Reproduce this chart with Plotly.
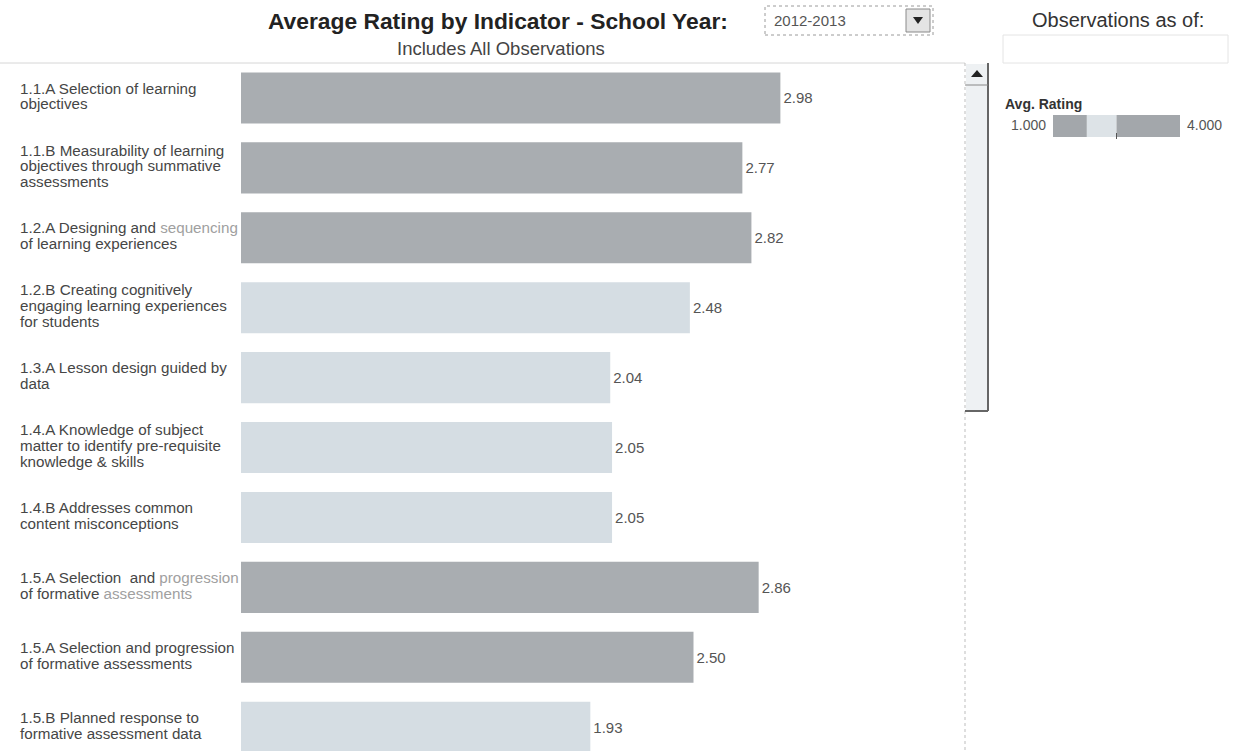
import plotly.graph_objects as go

# Indicator labels (wrapped as shown in the dashboard) and their average ratings
indicators = [
    "1.1.A Selection of learning<br>objectives",
    "1.1.B Measurability of learning<br>objectives through summative<br>assessments",
    "1.2.A Designing and <span style='color:#a0a0a0'>sequencing</span><br>of learning experiences",
    "1.2.B Creating cognitively<br>engaging learning experiences<br>for students",
    "1.3.A Lesson design guided by<br>data",
    "1.4.A Knowledge of subject<br>matter to identify pre-requisite<br>knowledge & skills",
    "1.4.B Addresses common<br>content misconceptions",
    "1.5.A Selection  and <span style='color:#a0a0a0'>progression</span><br>of formative <span style='color:#a0a0a0'>assessments</span>",
    "1.5.A Selection and progression<br>of formative assessments",
    "1.5.B Planned response to<br>formative assessment data",
]
avg_rating = [2.98, 2.77, 2.82, 2.48, 2.04, 2.05, 2.05, 2.86, 2.50, 1.93]

school_year = "2012-2013"

# Stepped colour legend: stops on the rating scale and the colour of each step
legend_stops = [1.0, 1.8, 2.5, 4.0]
legend_colors = ["#a3a7ab", "#dde3e7", "#a3a7ab"]
bar_dark = "#a9adb1"
bar_light = "#d5dde3"

W, H = 1237, 751
L, R, T, B = 241, 965, 63, 751  # plot area in pixels


def px(x):
    return (x - L) / (R - L)


def py(y):
    return (B - y) / (B - T)


def bar_color(v):
    return bar_light if legend_stops[1] <= v < legend_stops[2] else bar_dark


FONT = "Liberation Sans, Arial, sans-serif"
LABEL_SIZE = 15.2
LABEL_LEAD = 15.8  # vertical distance between wrapped label lines (px)

fig = go.Figure()
fig.add_trace(go.Bar(
    x=avg_rating,
    y=list(range(len(avg_rating))),
    orientation="h",
    width=0.73,
    marker=dict(color=[bar_color(v) for v in avg_rating], line=dict(width=0)),
    texttemplate="%{x:.2f}",
    textposition="outside",
    textfont=dict(family=FONT, size=15, color="#555555"),
    cliponaxis=False,
    hoverinfo="skip",
))

annotations = []
for i, lab in enumerate(indicators):
    lines = lab.split("<br>")
    n = len(lines)
    for j, ln in enumerate(lines):
        annotations.append(dict(
            x=px(18), xref="paper", y=i, yref="y",
            yshift=((n - 1) / 2 - j) * LABEL_LEAD + 2,
            text=ln, showarrow=False, xanchor="left", yanchor="middle",
            align="left", font=dict(family=FONT, size=LABEL_SIZE, color="#464646"),
        ))

def text_at(x, y, text, size, color, bold=False, xanchor="center"):
    annotations.append(dict(
        x=px(x), xref="paper", y=py(y), yref="paper",
        text=f"<b>{text}</b>" if bold else text, showarrow=False,
        xanchor=xanchor, yanchor="middle",
        font=dict(family=FONT, size=size, color=color),
    ))

text_at(498, 21, "Average Rating by Indicator - School Year:", 22.8, "#222222", bold=True)
text_at(501, 48, "Includes All Observations", 18.5, "#444444")
text_at(772, 20, school_year, 15, "#555555", xanchor="left")
text_at(1118, 20, "Observations as of:", 20, "#333333")
text_at(1003, 104, "Avg. Rating", 14, "#333333", bold=True, xanchor="left")
text_at(1048, 125, f"{legend_stops[0]:.3f}", 14, "#555555", xanchor="right")
text_at(1185, 125, f"{legend_stops[-1]:.3f}", 14, "#555555", xanchor="left")

shapes = []

def rect(x0, y0, x1, y1, fill, line_color=None, width=1, dash="solid"):
    shapes.append(dict(
        type="rect", xref="paper", yref="paper",
        x0=px(x0), x1=px(x1), y0=py(y1), y1=py(y0),
        fillcolor=fill, layer="above",
        line=dict(color=line_color or fill, width=width if line_color else 0, dash=dash),
    ))

def line(x0, y0, x1, y1, color, width=1, dash="solid"):
    shapes.append(dict(
        type="line", xref="paper", yref="paper",
        x0=px(x0), x1=px(x1), y0=py(y0), y1=py(y1), layer="above",
        line=dict(color=color, width=width, dash=dash),
    ))

def tri(points, color):
    path = "M " + " L ".join(f"{px(a)},{py(b)}" for a, b in points) + " Z"
    shapes.append(dict(type="path", xref="paper", yref="paper", path=path,
                       fillcolor=color, line=dict(width=0), layer="above"))

# pane top edge
line(0, 63, 965, 63, "#d6d6d6", 1)
# scrollbar track, button and thumb
line(965, 63, 965, 751, "#bdbdbd", 1, "dot")
rect(966, 64, 988, 411, "#eef1f3")
line(988, 63, 988, 411, "#666666", 2)
line(965, 411, 988, 411, "#666666", 2)
line(965, 85, 988, 85, "#888888", 1)
tri([(971, 77), (977, 70), (983, 77)], "#222222")

# school-year dropdown
rect(765, 6, 933, 35, "#ffffff", "#9a9a9a", 1, "dot")
rect(906, 9, 930, 32, "#e4e4e4", "#8a8a8a", 1)
tri([(913, 17), (923, 17), (918, 24)], "#222222")

# observations date box
rect(1003, 35, 1228, 63, "#ffffff", "#e4e4e4", 1)

# stepped legend bar
lx0, lx1 = 1053, 1180
span = legend_stops[-1] - legend_stops[0]
for a, b, c in zip(legend_stops[:-1], legend_stops[1:], legend_colors):
    xa = lx0 + (a - legend_stops[0]) / span * (lx1 - lx0)
    xb = lx0 + (b - legend_stops[0]) / span * (lx1 - lx0)
    rect(xa, 115, xb, 137, c)
xm = lx0 + (legend_stops[2] - legend_stops[0]) / span * (lx1 - lx0)
line(xm, 133, xm, 139, "#555555", 1)

fig.update_layout(
    width=W, height=H,
    margin=dict(l=L, r=W - R, t=T, b=H - B, pad=0),
    paper_bgcolor="white", plot_bgcolor="white",
    showlegend=False,
    xaxis=dict(range=[0, 4], visible=False, fixedrange=True),
    yaxis=dict(range=[9.34, -0.5], visible=False, fixedrange=True),
    annotations=annotations,
    shapes=shapes,
    font=dict(family=FONT),
)

fig.write_html("out.html", config={"displayModeBar": False})
